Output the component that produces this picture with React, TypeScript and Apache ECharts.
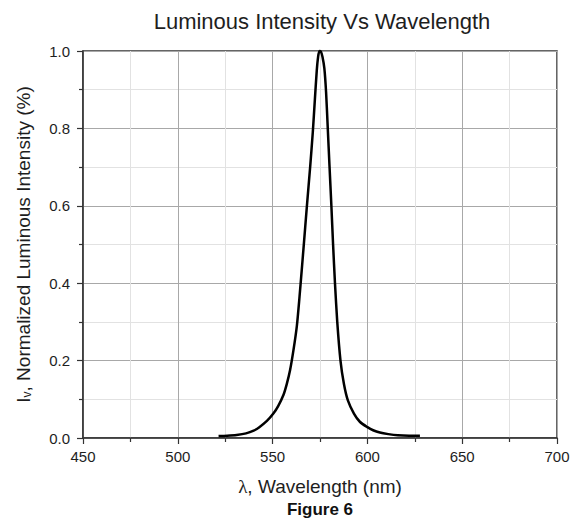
import React, { useEffect, useRef } from "react";
import * as echarts from "echarts";

const wavelengths = [
  521.5, 526, 531, 536, 540, 543, 547, 550.4, 553, 555.7, 557.5, 559.2, 561, 562.8,
  564.2, 565.3, 566.3, 568.1, 569.8, 571.2, 572.3, 573.3, 574, 574.7, 575.5, 576.3,
  577.3, 578.2, 579.1, 580, 581, 581.9, 582.9, 584.1, 585.8, 587.6, 589.7, 592.9,
  596, 600, 603, 606.6, 611, 616, 622, 627.7,
];
const intensities = [
  0.005, 0.006, 0.008, 0.012, 0.019, 0.028, 0.044, 0.063, 0.083, 0.111, 0.14, 0.175,
  0.227, 0.29, 0.365, 0.43, 0.49, 0.6, 0.7, 0.79, 0.875, 0.95, 0.985, 1.0, 0.998,
  0.985, 0.955, 0.894, 0.8, 0.704, 0.6, 0.5, 0.4, 0.3, 0.2, 0.14, 0.097, 0.063,
  0.042, 0.028, 0.02, 0.014, 0.01, 0.007, 0.006, 0.006,
];
const xTicks = [450, 500, 550, 600, 650, 700];
const yTicks = [0.0, 0.2, 0.4, 0.6, 0.8, 1.0];

const titleText = "Luminous Intensity Vs Wavelength";
const figureText = "Figure 6";

export default function App() {
  const ref = useRef<HTMLDivElement>(null);
  useEffect(() => {
    if (!ref.current) return;
    const chart = echarts.init(ref.current, undefined, { renderer: "svg" });
    const font = "'Liberation Sans', Arial, sans-serif";
    const textColor = "#1e1e1e";
    const axisColor = "#333";
    chart.setOption({
      animation: false,
      backgroundColor: "#ffffff",
      textStyle: { fontFamily: font },
      title: [
        {
          text: titleText,
          left: 322,
          top: 10,
          textAlign: "center",
          padding: 0,
          textStyle: { fontSize: 22, fontWeight: "normal", color: textColor, fontFamily: font },
        },
        {
          text: figureText,
          left: 320,
          top: 501,
          textAlign: "center",
          padding: 0,
          textStyle: { fontSize: 17, fontWeight: "bold", color: "#111", fontFamily: font },
        },
      ],
      grid: {
        left: 83,
        right: 22,
        top: 51,
        bottom: 84,
        show: true,
        borderColor: axisColor,
        borderWidth: 1.5,
        backgroundColor: "transparent",
      },
      xAxis: {
        type: "value",
        min: xTicks[0],
        max: xTicks[xTicks.length - 1],
        interval: 50,
        name: "{l|λ}{a|, Wavelength (nm)}",
        nameLocation: "middle",
        nameGap: 39,
        nameTextStyle: {
          color: textColor,
          rich: {
            l: { fontSize: 19, fontFamily: "'Liberation Serif', serif", color: textColor },
            a: { fontSize: 19, fontFamily: font, color: textColor },
          },
        },
        axisLine: { show: true, onZero: false, lineStyle: { color: axisColor, width: 1.5 } },
        axisTick: { show: true, inside: false, length: 6, lineStyle: { color: axisColor, width: 1.2 } },
        minorTick: { show: true, splitNumber: 2, length: 4, lineStyle: { color: axisColor, width: 1.2 } },
        axisLabel: {
          margin: 11,
          fontSize: 15,
          color: textColor,
          fontFamily: font,
          formatter: (v: number) => String(v),
        },
        splitLine: { show: true, lineStyle: { color: "#a8a8a8", width: 1 } },
        minorSplitLine: { show: true, lineStyle: { color: "#e2e2e2", width: 1 } },
      },
      yAxis: {
        type: "value",
        min: yTicks[0],
        max: yTicks[yTicks.length - 1],
        interval: 0.2,
        name: "{a|I}{s|v}{a|, Normalized Luminous Intensity (%)}",
        nameLocation: "middle",
        nameGap: 50,
        nameTextStyle: {
          color: textColor,
          rich: {
            a: { fontSize: 19, fontFamily: font, color: textColor },
            s: { fontSize: 12, fontFamily: font, color: textColor, verticalAlign: "bottom", padding: [6, 0, 0, 0] },
          },
        },
        axisLine: { show: true, onZero: false, lineStyle: { color: axisColor, width: 1.5 } },
        axisTick: { show: true, inside: false, length: 6, lineStyle: { color: axisColor, width: 1.2 } },
        minorTick: { show: true, splitNumber: 2, length: 4, lineStyle: { color: axisColor, width: 1.2 } },
        axisLabel: {
          margin: 13,
          fontSize: 15,
          color: textColor,
          fontFamily: font,
          formatter: (v: number) => v.toFixed(1),
        },
        splitLine: { show: true, lineStyle: { color: "#a8a8a8", width: 1 } },
        minorSplitLine: { show: true, lineStyle: { color: "#e2e2e2", width: 1 } },
      },
      series: [
        {
          type: "line",
          data: wavelengths.map((w, i) => [w, intensities[i]]),
          showSymbol: false,
          smooth: 0.25,
          clip: false,
          lineStyle: { color: "#000", width: 2.5 },
          z: 5,
        },
      ],
    });
    return () => chart.dispose();
  }, []);
  return (
    <div
      ref={ref}
      style={{ position: "fixed", left: 0, top: 0, width: 579, height: 522, background: "#fff" }}
    />
  );
}
